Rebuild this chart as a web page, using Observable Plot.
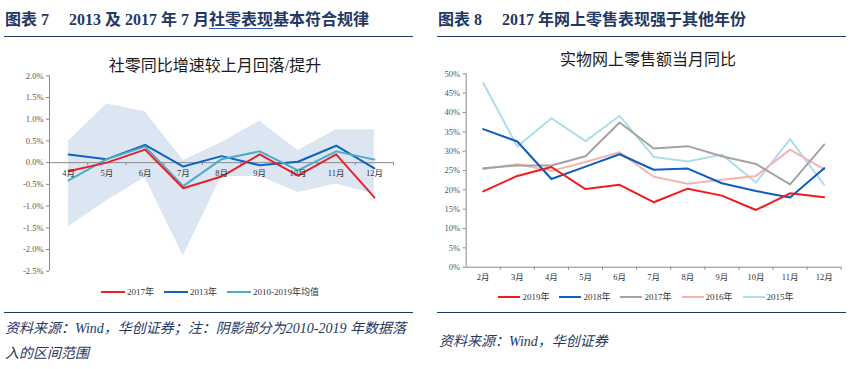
<!DOCTYPE html>
<html><head><meta charset="utf-8">
<script src="https://cdn.jsdelivr.net/npm/d3@7"></script>
<script src="https://cdn.jsdelivr.net/npm/@observablehq/plot@0.6"></script>
<style>
html,body{margin:0;padding:0;background:#fff;}
#wrap{position:relative;width:862px;height:369px;overflow:hidden;background:#fff;font-family:"Liberation Serif","Noto Sans CJK SC",serif;}
.abs{position:absolute;white-space:nowrap;}
.ttl{font-size:16px;font-weight:bold;color:#1F3864;line-height:20px;}
.ttl .num{display:inline-block;margin-right:20px;}
.ul{text-decoration:underline;text-decoration-color:#2E5EB8;text-underline-offset:3px;}
.rule{position:absolute;height:0;border-top:1.6px solid #1F3864;}
.ctitle{font-size:16px;color:#1a1a1a;transform:translateX(-50%);line-height:20px;}
.foot{font-size:14px;font-style:italic;color:#1F3864;line-height:25px;}
.legend{display:flex;align-items:center;justify-content:center;gap:10px;font-size:9px;color:#333;}
.legend .it{display:flex;align-items:center;gap:2px;}
.legend .sw{display:inline-block;height:2px;}
svg{position:absolute;top:0;}
</style></head>
<body><div id="wrap"></div>
<script>
// ---------- Data: left chart (图表7) ----------
const monthsL = ["4月","5月","6月","7月","8月","9月","10月","11月","12月"];
const s2017L = [-0.20, 0.00, 0.30, -0.59, -0.32, 0.19, -0.30, 0.19, -0.80];
const s2013L = [0.19, 0.08, 0.41, -0.09, 0.15, -0.06, 0.02, 0.39, -0.13];
const sAvgL  = [-0.41, 0.08, 0.37, -0.54, 0.08, 0.26, -0.18, 0.26, 0.07];
const bandHi = [0.50, 1.35, 1.17, 0.05, 0.46, 0.96, 0.28, 0.76, 0.76];
const bandLo = [-1.47, -0.88, -0.34, -2.15, -0.32, -0.32, -0.69, -0.49, -0.72];
const yTicksL = [-2.5,-2.0,-1.5,-1.0,-0.5,0,0.5,1.0,1.5,2.0];
const seriesNamesL = ["2017年","2013年","2010-2019年均值"];
const colorsL = ["#E8212B","#1063C1","#4BACC6"];

// ---------- Data: right chart (图表8) ----------
const monthsR = ["2月","3月","4月","5月","6月","7月","8月","9月","10月","11月","12月"];
const s2019 = [19.6, 23.6, 25.9, 20.2, 21.3, 16.8, 20.3, 18.5, 14.8, 19.1, 18.1];
const s2018 = [35.7, 32.5, 22.8, 26.0, 29.2, 25.2, 25.5, 21.7, 19.7, 18.0, 25.6];
const s2017 = [25.6, 26.3, 26.3, 28.7, 37.4, 30.7, 31.3, 28.7, 26.7, 21.4, 31.7];
const s2016 = [25.4, 26.6, 24.9, 27.2, 29.7, 23.4, 21.6, 22.6, 23.6, 30.4, 25.3];
const s2015 = [47.6, 31.2, 38.5, 32.6, 39.1, 28.5, 27.3, 29.1, 21.9, 33.1, 21.3];
const yTicksR = [0,5,10,15,20,25,30,35,40,45,50];
const seriesNamesR = ["2019年","2018年","2017年","2016年","2015年"];
const colorsR = ["#F21A1A","#0B5FC0","#A3A3A3","#F2B4B4","#ADDDEB"];

const wrap = document.getElementById("wrap");
function add(html){ wrap.insertAdjacentHTML("beforeend", html); }

// Headings, rules, chart titles, footers
add(`<div class="abs ttl" style="left:5px;top:10px;"><span class="num">图表 7</span>2013 及 2017 年 7 月<span class="ul">社零表现</span>基本符合规律</div>`);
add(`<div class="abs ttl" style="left:438px;top:10px;"><span class="num">图表 8</span>2017 年网上零售表现强于其他年份</div>`);
add(`<div class="rule" style="left:4px;width:409px;top:36px;"></div>`);
add(`<div class="rule" style="left:437px;width:409px;top:36px;"></div>`);
add(`<div class="rule" style="left:4px;width:409px;top:312px;"></div>`);
add(`<div class="rule" style="left:437px;width:409px;top:312px;"></div>`);
add(`<div class="abs ctitle" style="left:215px;top:56px;">社零同比增速较上月回落/提升</div>`);
add(`<div class="abs ctitle" style="left:648px;top:50px;">实物网上零售额当月同比</div>`);
add(`<div class="abs foot" style="left:5px;top:316px;">资料来源：Wind，华创证券；注：阴影部分为2010-2019 年数据落<br>入的区间范围</div>`);
add(`<div class="abs foot" style="left:439px;top:329px;">资料来源：Wind，华创证券</div>`);

function legend(names, colors, left, width, top, sw){
  const items = names.map((n,i)=>`<div class="it"><span class="sw" style="width:${sw}px;background:${colors[i]}"></span><span>${n}</span></div>`).join("");
  add(`<div class="abs legend" style="left:${left}px;width:${width}px;top:${top}px;">${items}</div>`);
}
legend(seriesNamesL, colorsL, 60, 300, 285, 24);
legend(seriesNamesR, colorsR, 496, 300, 290, 22);

const font = `"Liberation Serif","Noto Sans CJK SC",serif`;

// ---------- Left plot ----------
const rowsL = monthsL.map((m,i)=>({i, m, hi:bandHi[i], lo:bandLo[i]}));
const seriesL = [s2013L, sAvgL, s2017L];
const seriesColorsL = [colorsL[1], colorsL[2], colorsL[0]];
const boundsL = d3.range(0.5, monthsL.length, 1);
const left = Plot.plot({
  width:430, height:369,
  marginLeft:49, marginRight:37, marginTop:75.3, marginBottom:98.3,
  x:{domain:[-0.5, monthsL.length-0.5], axis:null},
  y:{domain:[-2.5, 2.0], axis:null},
  style:{fontFamily:font, fontSize:"8.5px", color:"#555", background:"transparent", overflow:"visible"},
  marks:[
    Plot.areaY(rowsL, {x:"i", y1:"lo", y2:"hi", fill:"#DCE6F2"}),
    Plot.ruleY([0], {stroke:"#8a8a8a", strokeWidth:1}),
    Plot.ruleX(boundsL, {y1:0, y2:-0.07, stroke:"#8a8a8a"}),
    Plot.ruleX([-0.5], {y1:-2.5, y2:2.0, stroke:"#8a8a8a"}),
    Plot.axisY({ticks:yTicksL, tickSize:3, tickPadding:3, tickFormat:d=>d.toFixed(1)+"%", label:null, stroke:"#8a8a8a"}),
    ...seriesL.map((s,k)=>Plot.line(s.map((v,i)=>({i,v})), {x:"i", y:"v", stroke:seriesColorsL[k], strokeWidth:2})),
    Plot.text(rowsL, {x:"i", y:0, text:"m", dy:11, fill:"#333"})
  ]
});
left.style.left = "0px";
wrap.appendChild(left);

// ---------- Right plot ----------
const seriesR = [s2015, s2016, s2017, s2018, s2019];
const seriesColorsR = [colorsR[4], colorsR[3], colorsR[2], colorsR[1], colorsR[0]];
const rowsR = monthsR.map((m,i)=>({i, m}));
const boundsR = d3.range(0.5, monthsR.length, 1);
const right = Plot.plot({
  width:432, height:369,
  marginLeft:35.7, marginRight:21.3, marginTop:73.3, marginBottom:102.3,
  x:{domain:[-0.5, monthsR.length-0.5], axis:null},
  y:{domain:[0, 50], axis:null},
  style:{fontFamily:font, fontSize:"8.5px", color:"#555", background:"transparent", overflow:"visible"},
  marks:[
    Plot.ruleY([0], {stroke:"#8a8a8a"}),
    Plot.ruleX(boundsR, {y1:0, y2:-0.8, stroke:"#8a8a8a"}),
    Plot.ruleX([-0.5], {y1:0, y2:50, stroke:"#8a8a8a"}),
    Plot.axisY({ticks:yTicksR, tickSize:3, tickPadding:3, tickFormat:d=>d+"%", label:null, stroke:"#8a8a8a"}),
    ...seriesR.map((s,k)=>Plot.line(s.map((v,i)=>({i,v})), {x:"i", y:"v", stroke:seriesColorsR[k], strokeWidth:2})),
    Plot.text(rowsR, {x:"i", y:0, text:"m", dy:10, fill:"#333"})
  ]
});
right.style.left = "430px";
wrap.appendChild(right);
</script>
</body></html>
